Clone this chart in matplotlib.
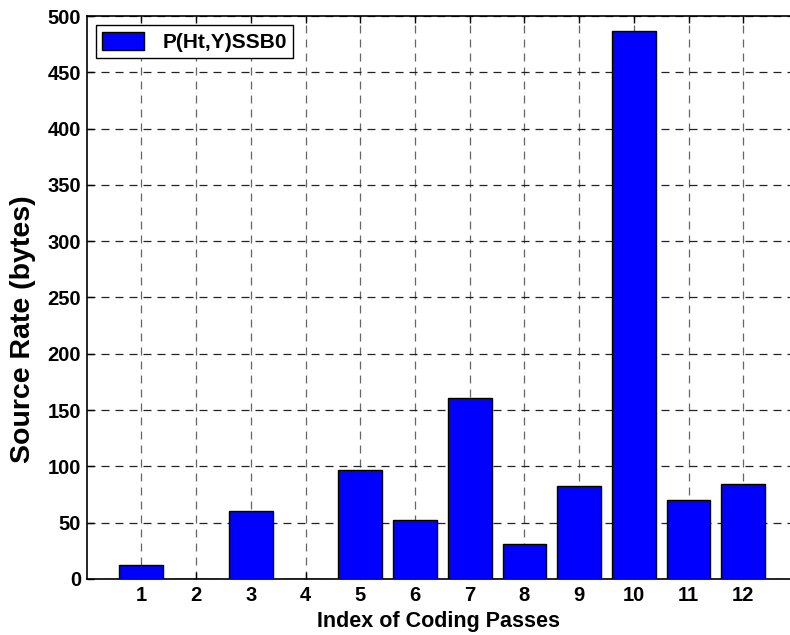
import matplotlib
matplotlib.use("Agg")
import matplotlib.pyplot as plt

passes = [1, 2, 3, 4, 5, 6, 7, 8, 9, 10, 11, 12]
source_rate = [12, 0, 60, 0, 97, 52, 161, 31, 83, 487, 70, 84]
series_name = "P(Ht,Y)SSB0"
y_ticks = [0, 50, 100, 150, 200, 250, 300, 350, 400, 450, 500]

plt.rcParams['font.family'] = ['Liberation Sans', 'DejaVu Sans']
plt.rcParams['font.weight'] = 'bold'

fig = plt.figure(figsize=(7.9, 6.35), dpi=100)
ax = fig.add_axes([0.1097, 0.0882, 0.9004, 0.8866])

ax.bar(passes, source_rate, width=0.8, color='#0000ff', edgecolor='black',
       linewidth=1.0, label=series_name, zorder=3)

ax.set_xlim(0, 13)
ax.set_ylim(0, 500)
ax.set_xticks(passes)
ax.set_yticks(y_ticks)
ax.tick_params(direction='in', length=5, width=1, top=True, right=True,
               labelsize=14.5, pad=5)
ax.tick_params(axis='y', pad=4)
for lab in ax.get_xticklabels() + ax.get_yticklabels():
    lab.set_fontweight('bold')

ax.grid(True, axis='y', color='#222222', linestyle=(0, (6.4, 4.8)), linewidth=0.9, zorder=0)
ax.grid(True, axis='x', color='#666666', linestyle=(0, (6.4, 4.8)), linewidth=0.9, zorder=0)
ax.set_axisbelow(True)
for s in ax.spines.values():
    s.set_linewidth(1.2)

ax.set_xlabel('Index of Coding Passes', fontsize=15.5, fontweight='bold')
ax.set_ylabel('Source Rate (bytes)', fontsize=20.5, fontweight='bold')
ax.xaxis.set_label_coords(0.494, -0.057)
ax.yaxis.set_label_coords(-0.071, 0.444)

leg = ax.legend(loc='upper left', fontsize=15, frameon=True, fancybox=False,
                edgecolor='black', framealpha=1, handlelength=2.0,
                handleheight=1.0, borderpad=0.3, borderaxespad=0.45,
                handletextpad=0.9)
leg.get_frame().set_linewidth(1.0)
for t in leg.get_texts():
    t.set_fontweight('bold')

fig.savefig('out.png', dpi=100)
